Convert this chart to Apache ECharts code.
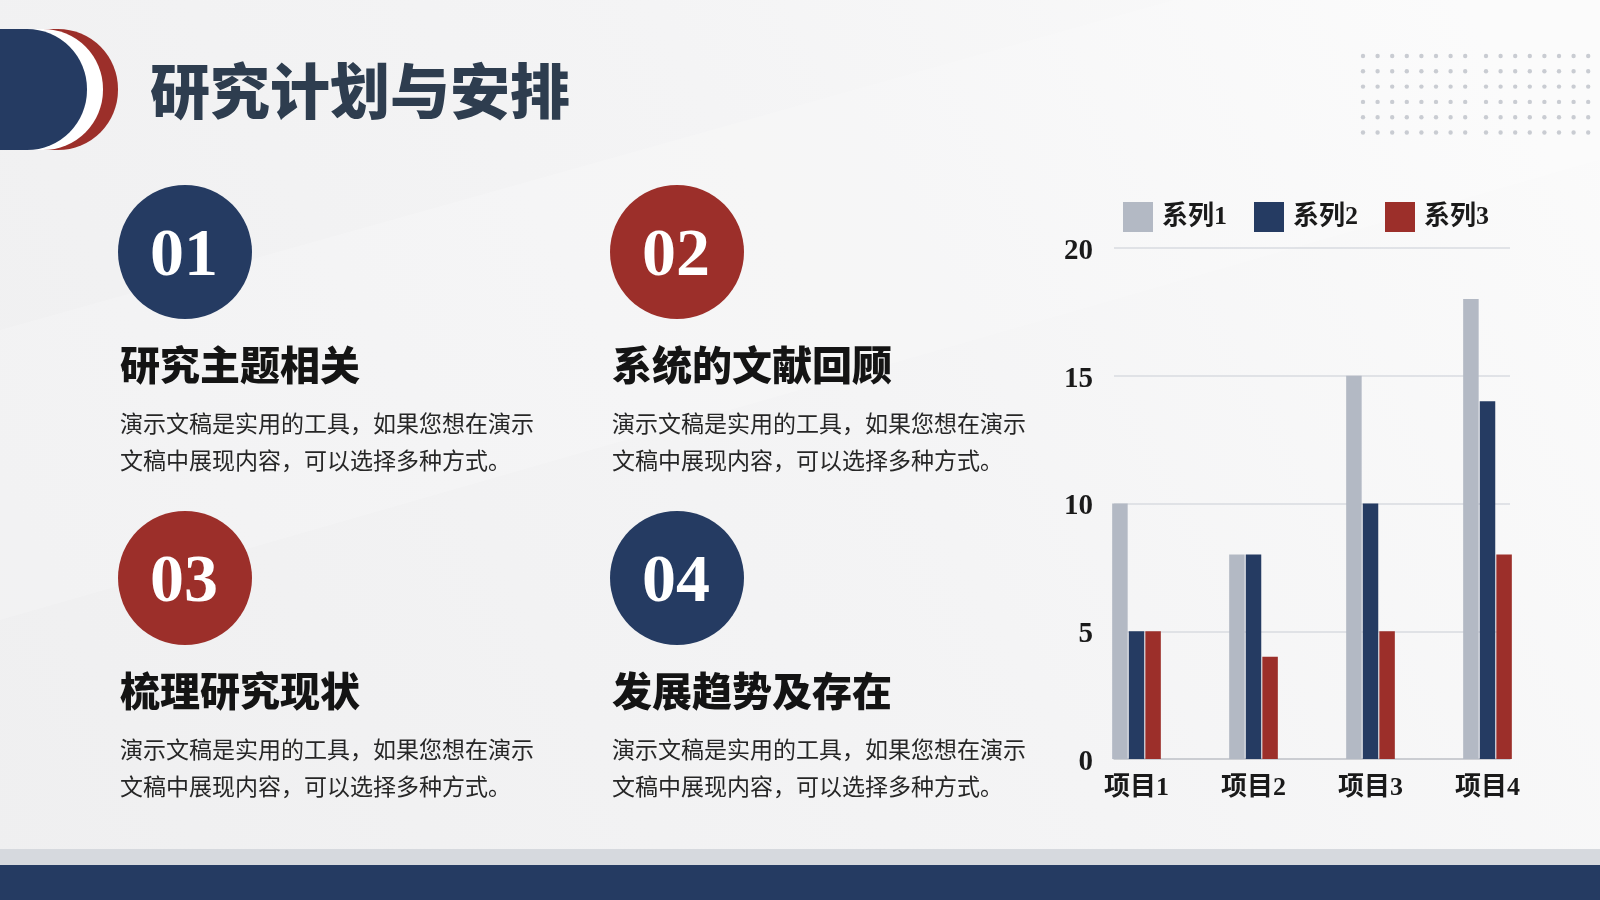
<!DOCTYPE html>
<html>
<head>
<meta charset="utf-8">
<script src="https://cdn.jsdelivr.net/npm/echarts@6/dist/echarts.min.js"></script>
<style>
  html, body { margin: 0; padding: 0; width: 1600px; height: 900px; overflow: hidden; }
  #main { width: 1600px; height: 900px; }
</style>
</head>
<body>
<div id="main"></div>
<script>
// chart data
const categories = ['项目1', '项目2', '项目3', '项目4'];
const seriesNames = ['系列1', '系列2', '系列3'];
const series1 = [10, 8, 15, 18];
const series2 = [5, 8, 10, 14];
const series3 = [5, 4, 5, 8];
const yMin = 0, yMax = 20, yStep = 5;

// text blocks
const pageTitle = '研究计划与安排';
const itemNums = ['01', '02', '03', '04'];
const itemTitles = ['研究主题相关', '系统的文献回顾', '梳理研究现状', '发展趋势及存在'];
const bodyLine1 = '演示文稿是实用的工具，如果您想在演示';
const bodyLine2 = '文稿中展现内容，可以选择多种方式。';

const NAVY = '#253b62';
const RED = '#9c2f2a';
const GREY = '#b3b9c4';
const SERIF = '"Liberation Serif", "Noto Sans CJK SC", serif';
const CJK = '"Noto Sans CJK SC", sans-serif';

function txt(text, x, y, font, fill, align) {
  return {
    type: 'text', z: 10,
    style: {
      text: text, x: x, y: y, font: font, fill: fill,
      align: align || 'left', verticalAlign: 'middle',
      textAlign: align || 'left', textVerticalAlign: 'middle'
    }
  };
}

let g = [];
// background
g.push({
  type: 'rect', z: -10, shape: { x: 0, y: 0, width: 1600, height: 900 },
  style: { fill: new echarts.graphic.LinearGradient(0, 1, 1, 0, [
    { offset: 0, color: '#efeff0' }, { offset: 0.55, color: '#f4f4f5' }, { offset: 1, color: '#fbfbfb' }
  ]) }
});
g.push({
  type: 'polygon', z: -9,
  shape: { points: [[0, 330], [1600, -120], [1600, 160], [0, 620]] },
  style: { fill: 'rgba(255,255,255,0.18)' }
});
// bottom bands
g.push({ type: 'rect', z: -5, shape: { x: 0, y: 849, width: 1600, height: 16 }, style: { fill: '#d6d9de' } });
g.push({ type: 'rect', z: -5, shape: { x: 0, y: 865, width: 1600, height: 35 }, style: { fill: NAVY } });

// header badge
g.push({ type: 'rect', shape: { x: -10, y: 29, width: 128, height: 121, r: [0, 60, 60, 0] }, style: { fill: RED } });
g.push({ type: 'rect', shape: { x: -10, y: 29, width: 113, height: 121, r: [0, 60, 60, 0] }, style: { fill: '#ffffff' } });
g.push({ type: 'rect', shape: { x: -10, y: 29, width: 97, height: 121, r: [0, 60, 60, 0] }, style: { fill: NAVY } });
g.push(txt(pageTitle, 150, 91, '900 60px ' + CJK, '#2e3d4f'));

// dot pattern
for (let r = 0; r < 6; r++) {
  for (let k = 0; k < 2; k++) {
    for (let c = 0; c < 8; c++) {
      g.push({
        type: 'circle',
        shape: { cx: (k === 0 ? 1363 : 1486) + c * 14.6, cy: 56 + r * 15.3, r: 2.2 },
        style: { fill: '#c9ccd2' }
      });
    }
  }
}

// four items
const colX = [185, 677];
const rowY = [252, 578];
const circleColors = [NAVY, RED, RED, NAVY];
for (let i = 0; i < 4; i++) {
  const cx = colX[i % 2], cy = rowY[Math.floor(i / 2)];
  const lx = cx - 65;
  g.push({ type: 'circle', shape: { cx: cx, cy: cy, r: 67 }, style: { fill: circleColors[i] } });
  g.push(txt(itemNums[i], cx - 1, cy + 5, 'bold 68px ' + SERIF, '#ffffff', 'center'));
  g.push(txt(itemTitles[i], lx, cy + 113, '900 40px ' + CJK, '#141414'));
  g.push(txt(bodyLine1, lx, cy + 171, '23px ' + CJK, '#262626'));
  g.push(txt(bodyLine2, lx, cy + 208, '23px ' + CJK, '#262626'));
}

const chart = echarts.init(document.getElementById('main'));
chart.setOption({
  animation: false,
  color: [GREY, NAVY, RED],
  graphic: g,
  legend: {
    data: seriesNames,
    left: 1123, top: 202, padding: 0,
    itemWidth: 30, itemHeight: 30, itemGap: 27,
    icon: 'rect',
    textStyle: { fontFamily: SERIF, fontSize: 26, fontWeight: 'bold', color: '#1a1a1a', padding: [2, 0, 0, 4] }
  },
  grid: [
    { left: 1114, top: 248, width: 396, height: 511 },
    { left: 1078, top: 248, width: 468, height: 511 }
  ],
  xAxis: [
    {
      gridIndex: 0, type: 'category', data: categories,
      axisLine: { lineStyle: { color: '#c3c6cc', width: 1.5 } },
      axisTick: { show: false }, axisLabel: { show: false }
    },
    {
      gridIndex: 1, type: 'category', data: categories,
      axisLine: { show: false }, axisTick: { show: false },
      axisLabel: { margin: 16, fontFamily: SERIF, fontSize: 26, fontWeight: 'bold', color: '#1a1a1a' }
    }
  ],
  yAxis: [
    {
      gridIndex: 0, type: 'value', min: yMin, max: yMax, interval: yStep,
      axisLine: { show: false }, axisTick: { show: false },
      splitLine: { lineStyle: { color: '#d9dbe0', width: 1.5 } },
      axisLabel: {
        margin: 21,
        formatter: v => '{n|' + v + '}',
        rich: { n: { padding: [7, 0, 0, 0], fontFamily: SERIF, fontSize: 29, fontWeight: 'bold', color: '#1a1a1a' } }
      }
    },
    { gridIndex: 1, type: 'value', min: yMin, max: yMax, interval: yStep, show: false }
  ],
  series: [series1, series2, series3].map((d, i) => ({
    name: seriesNames[i], type: 'bar', data: d,
    xAxisIndex: 1, yAxisIndex: 1,
    barWidth: 15.5, barGap: '7%'
  }))
});
</script>
</body>
</html>
